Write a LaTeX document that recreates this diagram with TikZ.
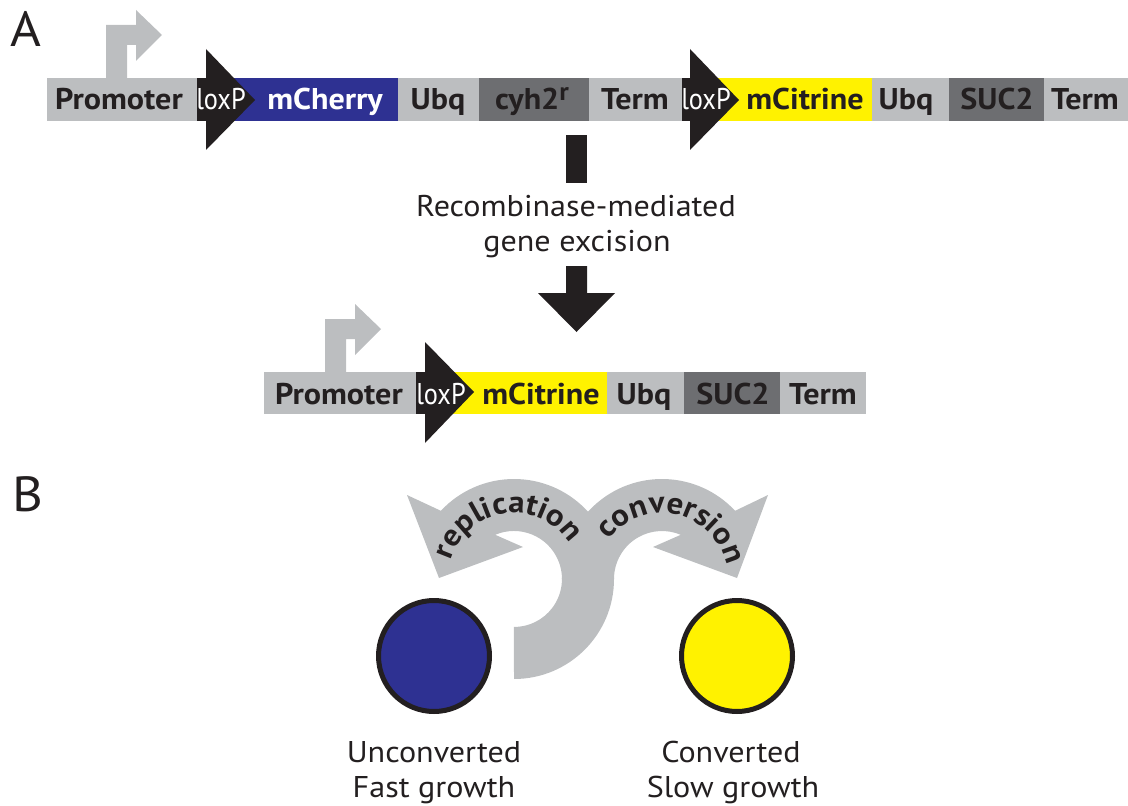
\documentclass[tikz,border=0pt]{standalone}
\usepackage{fontspec}
\setmainfont{PT Sans}[FakeStretch=1.07]
\usetikzlibrary{decorations.text}
\definecolor{lgray}{HTML}{BCBEC0}
\definecolor{dgray}{HTML}{6D6E71}
\definecolor{cblue}{HTML}{2E3192}
\definecolor{cyell}{HTML}{FFF200}
\definecolor{ink}{HTML}{231F20}
\newcommand{\arcfont}{\bfseries\fontsize{23}{23}\selectfont}
\begin{document}
\begin{tikzpicture}[x=0.75pt,y=-0.75pt,
  lab/.style={font=\bfseries\fontsize{22.5}{22.5}\selectfont, text=ink, anchor=base, inner sep=0pt},
  labw/.style={lab, text=white},
  lox/.style={font=\fontsize{22.5}{22.5}\selectfont, text=white, anchor=base, inner sep=0pt},
  caption/.style={font=\fontsize{22.5}{22.5}\selectfont, text=ink, anchor=base, inner sep=0pt},
  panel/.style={font=\fontsize{37}{37}\selectfont, text=ink, anchor=base west, inner sep=0pt},
  cell/.style={circle, draw=ink, line width=3.75pt, minimum size=83.25pt, inner sep=0pt},
  arctext/.style={decorate, decoration={text along path, text align=center, text color=ink, text={|\arcfont|#1}}}
]
\useasboundingbox (0,0) rectangle (1128,806);

% ---------- panel labels ----------
\node[panel] (pA) at (10,47) {A};
\node[panel] (pB) at (12,511) {B};

% ---------- original construct ----------
% promoter arrow
\fill[lgray] (106,78) -- (106,25) -- (136,25) -- (136,10) -- (162,35) -- (136,61)
  -- (136,45) -- (127,45) -- (127,78) -- cycle;
% segments
\fill[lgray] (47,78) rectangle (197,121);
\fill[ink]   (197,78) rectangle (230,121);
\fill[cblue] (228,78) rectangle (398,121);
\fill[lgray] (398,78) rectangle (479,121);
\fill[dgray] (479,78) rectangle (589,121);
\fill[lgray] (589,78) rectangle (682,121);
\fill[ink]   (682,78) rectangle (715,121);
\fill[cyell] (713,78) rectangle (872,121);
\fill[lgray] (872,78) rectangle (949,121);
\fill[dgray] (949,78) rectangle (1044,121);
\fill[lgray] (1044,78) rectangle (1128,121);
% loxP sites
\fill[ink] (206,49) -- (255,100) -- (206,150) -- cycle;
\fill[ink] (690,49) -- (739,100) -- (690,150) -- cycle;
% labels
\node[lab]  (t1prom) at (119,110) {Promoter};
\node[lox]  (t1lox1) at (221,110) {\scalebox{0.82}[1]{loxP}};
\node[labw] (t1cher) at (325,110) {mCherry};
\node[lab]  (t1ubq1) at (438,110) {Ubq};
\node[lab]  (t1cyh)  at (532,110) {cyh2\raisebox{0.3em}{\fontsize{19}{19}\selectfont r}};
\node[lab]  (t1ter1) at (635,110) {Term};
\node[lox]  (t1lox2) at (706,110) {\scalebox{0.82}[1]{loxP}};
\node[lab]  (t1citr) at (805,110) {mCitrine};
\node[lab]  (t1ubq2) at (906,110) {Ubq};
\node[lab]  (t1suc)  at (997,110) {SUC2};
\node[lab]  (t1ter2) at (1085,110) {Term};

% ---------- excision step ----------
\fill[ink] (566,135) rectangle (587,183);
\node[caption] (rec1) at (576,216) {Recombinase-mediated};
\node[caption] (rec2) at (577,251) {gene excision};
\fill[ink] (566,266) -- (587,266) -- (587,293) -- (615,293) -- (576.5,332)
  -- (538,293) -- (566,293) -- cycle;

% ---------- excised construct ----------
\fill[lgray] (325,372) -- (325,319) -- (355,319) -- (355,304) -- (381,329) -- (355,355)
  -- (355,339) -- (346,339) -- (346,372) -- cycle;
\fill[lgray] (264,372) rectangle (416,414);
\fill[ink]   (416,372) rectangle (450,414);
\fill[cyell] (448,372) rectangle (607,414);
\fill[lgray] (607,372) rectangle (684,414);
\fill[dgray] (684,372) rectangle (780,414);
\fill[lgray] (780,372) rectangle (866,414);
\fill[ink] (425,342) -- (474,392) -- (425,443) -- cycle;
\node[lab] (t2prom) at (339,404) {Promoter};
\node[lox] (t2lox)  at (441,404) {\scalebox{0.82}[1]{loxP}};
\node[lab] (t2citr) at (541,404) {mCitrine};
\node[lab] (t2ubq)  at (644,404) {Ubq};
\node[lab] (t2suc)  at (733,404) {SUC2};
\node[lab] (t2ter)  at (823,404) {Term};

% ---------- panel B: growth / conversion ----------
% replication arrow (left ring)
\fill[lgray] (514,679) arc[start angle=90,end angle=-137,radius=100]
  -- (407,495) -- (439,578) -- (523,547) -- (495.2,534.8)
  arc[start angle=-113,end angle=90,radius=48] -- cycle;
% conversion arrow (right ring)
\fill[lgray] (735.1,510.8) arc[start angle=-43,end angle=-180,radius=100]
  -- (614,579) arc[start angle=180,end angle=293,radius=48]
  -- (653,547) -- (737,578) -- (768,495) -- cycle;
% arc labels
\path[arctext=replication] (514,579) ++(-180:66) arc[start angle=-180,end angle=-16,radius=66];
\path[arctext=conversion] (662,579) ++(-160:66) arc[start angle=-160,end angle=4,radius=66];

% cells
\node[cell, fill=cblue] (unconv) at (434,656) {};
\node[cell, fill=cyell] (conv)   at (737,656) {};
\node[caption] (uc1) at (434,762) {Unconverted};
\node[caption] (uc2) at (434,797) {Fast growth};
\node[caption] (cv1) at (731,762) {Converted};
\node[caption] (cv2) at (733,797) {Slow growth};
\end{tikzpicture}
\end{document}
